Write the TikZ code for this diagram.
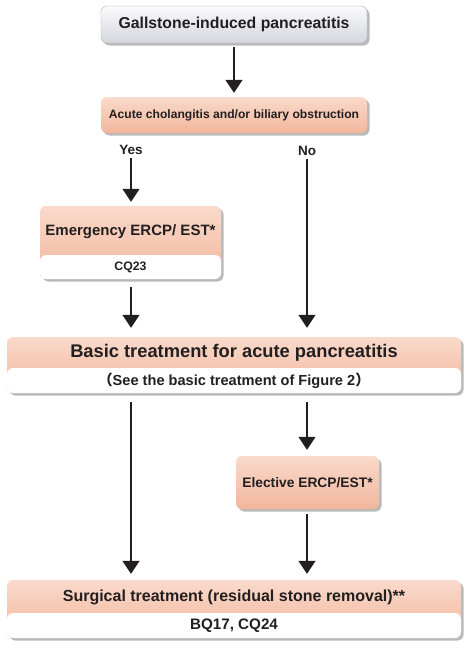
\documentclass[tikz,border=0pt]{standalone}
\usepackage{fontspec}
\setmainfont{Liberation Sans}
\newfontfamily\cjkfont{Noto Sans CJK SC}
\usetikzlibrary{arrows.meta,shadows,calc}
\definecolor{salmonT}{HTML}{F9DACB}
\definecolor{salmonB}{HTML}{F2B69C}
\definecolor{grayT}{HTML}{FBFBFC}
\definecolor{grayB}{HTML}{D3D6DD}
\definecolor{ink}{HTML}{231F20}
\tikzset{
  boxbase/.style={rounded corners=6pt, inner sep=0pt, align=center, text=ink, font=\bfseries,
    drop shadow={shadow xshift=2.5pt, shadow yshift=-2.5pt, opacity=0.45, fill=black!60}},
  graybox/.style={boxbase, top color=grayT, bottom color=grayB, draw=grayB!80!black, line width=0.3pt},
  salbox/.style={boxbase, top color=salmonT, bottom color=salmonB},
  subbox/.style={rounded corners=6pt, inner sep=0pt, fill=white, align=center, text=ink, font=\bfseries},
  arr/.style={draw=ink, line width=1.4pt, -{Triangle[width=17pt,length=13pt]}},
  lbl/.style={text=ink, font=\bfseries\fontsize{13.5}{15}\selectfont, inner sep=1pt}
}
\begin{document}
\begin{tikzpicture}[x=1pt,y=-1pt]
\useasboundingbox (0,0) rectangle (474,648);
% top
\node[graybox, minimum width=266pt, minimum height=37pt, font=\bfseries\fontsize{15.8}{18}\selectfont] (top) at (234,24.5) {Gallstone-induced pancreatitis};
% acute
\node[salbox, minimum width=266pt, minimum height=36pt, font=\bfseries\fontsize{12.1}{14}\selectfont] (acute) at (234,115) {Acute cholangitis and/or biliary obstruction};
% yes / no
\node[lbl] (yes) at (131,150) {Yes};
\node[lbl] (no) at (307,151) {No};
% emergency
\node[salbox, minimum width=181pt, minimum height=73pt] (em) at (130.5,242.5) {};
\node[subbox, minimum width=181pt, minimum height=24pt, font=\bfseries\fontsize{12.3}{14}\selectfont] (emsub) at (130.5,267) {CQ23};
\node[text=ink, font=\bfseries\fontsize{15}{17}\selectfont] (emt) at (130.5,232) {Emergency ERCP/ EST*};
% basic
\node[salbox, minimum width=454pt, minimum height=56pt] (basic) at (234,365) {};
\node[subbox, minimum width=454pt, minimum height=25pt, font=\bfseries\fontsize{14.6}{16}\selectfont] (basicsub) at (234,380.5) {{\cjkfont （}See the basic treatment of Figure 2{\cjkfont ）}};
\node[text=ink, font=\bfseries\fontsize{18.3}{21}\selectfont] (basict) at (234,353) {Basic treatment for acute pancreatitis};
% elective
\node[salbox, minimum width=143pt, minimum height=53pt, font=\bfseries\fontsize{13.8}{16}\selectfont] (el) at (307.5,482.5) {Elective ERCP/EST*};
% surgical
\node[salbox, minimum width=454pt, minimum height=58pt] (surg) at (234,609) {};
\node[subbox, minimum width=454pt, minimum height=25pt, font=\bfseries\fontsize{15.2}{17}\selectfont] (surgsub) at (234,625.5) {BQ17, CQ24};
\node[text=ink, font=\bfseries\fontsize{16}{19}\selectfont] (surgt) at (234,597) {Surgical treatment (residual stone removal)**};
% arrows
\draw[arr, shorten <=4pt, shorten >=4pt] (top.south) -- (acute.north);
\draw[arr, shorten <=2pt, shorten >=4pt] (yes.south) -- (yes.south |- em.north);
\draw[arr, shorten <=2pt, shorten >=9pt] (no.south) -- (no.south |- basic.north);
\draw[arr, shorten <=8pt, shorten >=9pt] (yes.south |- em.south) -- (yes.south |- basic.north);
\draw[arr, shorten <=9pt, shorten >=6pt] (no.south |- basic.south) -- (no.south |- el.north);
\draw[arr, shorten <=9pt, shorten >=6pt] (yes.south |- basic.south) -- (yes.south |- surg.north);
\draw[arr, shorten <=5pt, shorten >=6pt] (no.south |- el.south) -- (no.south |- surg.north);
\end{tikzpicture}
\end{document}
